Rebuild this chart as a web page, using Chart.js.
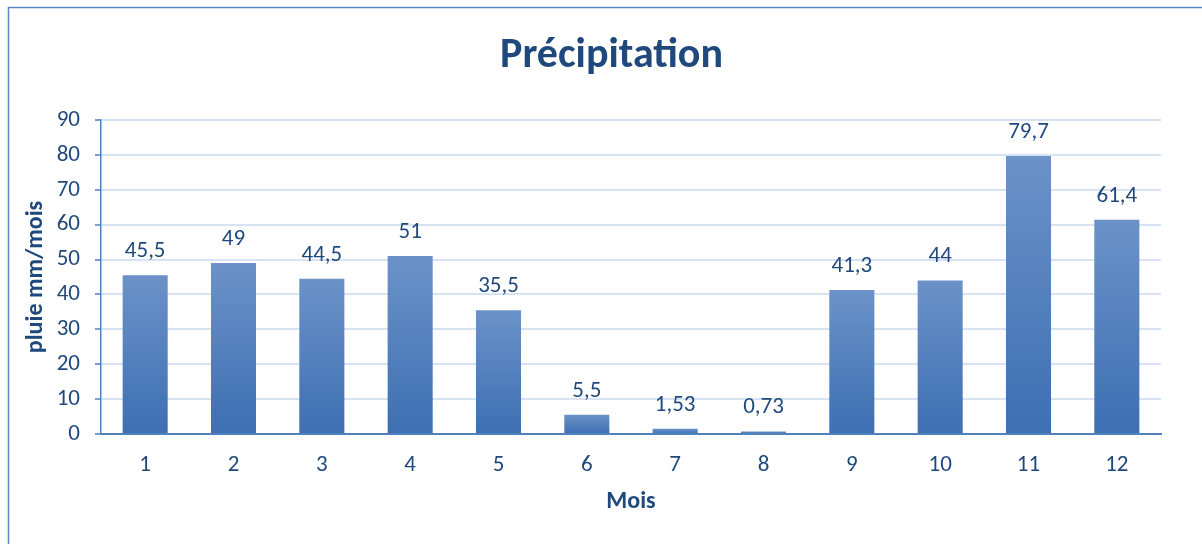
<!DOCTYPE html>
<html>
<head>
<meta charset="utf-8">
<script src="https://cdn.jsdelivr.net/npm/chart.js@4/dist/chart.umd.min.js"></script>
<style>
  html, body { margin: 0; padding: 0; background: #ffffff; }
  #wrap { width: 1202px; height: 544px; position: relative; }
</style>
</head>
<body>
<div id="wrap"><canvas id="c" width="1202" height="544"></canvas></div>
<script>
// Monthly rainfall (mm)
const months = ['1', '2', '3', '4', '5', '6', '7', '8', '9', '10', '11', '12'];
const rainfall = [45.5, 49, 44.5, 51, 35.5, 5.5, 1.53, 0.73, 41.3, 44, 79.7, 61.4];
const yTicks = [0, 10, 20, 30, 40, 50, 60, 70, 80, 90];
const chartTitle = 'Précipitation';

const FONT = 'Carlito, Lato, "Open Sans", sans-serif';
const TEXT = '#1F497D';
const AXIS = '#4F81BD';

// Vertical gradient per bar: lighter at the top, deeper at the base
function barFill(ctx) {
  const chart = ctx.chart;
  const area = chart.chartArea;
  if (!area || ctx.dataIndex === undefined) return '#4F81BD';
  const y = chart.scales.y;
  const top = y.getPixelForValue(ctx.raw);
  const base = y.getPixelForValue(0);
  if (!(base - top > 0.5)) return '#5A86C2';
  const g = chart.ctx.createLinearGradient(0, top, 0, base);
  g.addColorStop(0, '#6C92C8');
  g.addColorStop(1, '#3D6FB2');
  return g;
}

// Value labels above every bar, written with a decimal comma
const valueLabels = {
  id: 'valueLabels',
  afterDatasetsDraw(chart) {
    const ctx = chart.ctx;
    const meta = chart.getDatasetMeta(0);
    ctx.save();
    ctx.font = '23px ' + FONT;
    ctx.fillStyle = TEXT;
    ctx.textAlign = 'center';
    ctx.textBaseline = 'alphabetic';
    meta.data.forEach((bar, i) => {
      const txt = String(rainfall[i]).replace('.', ',');
      ctx.fillText(txt, bar.x, bar.y - 18);
    });
    ctx.restore();
  }
};

// Outer frame of the chart box and the centred heading
const frame = {
  id: 'frame',
  beforeDraw(chart) {
    const ctx = chart.ctx;
    ctx.save();
    ctx.fillStyle = '#ffffff';
    ctx.fillRect(0, 0, chart.width, chart.height);
    ctx.strokeStyle = '#5B87C4';
    ctx.lineWidth = 1.5;
    ctx.beginPath();
    ctx.moveTo(8.5, chart.height + 2);
    ctx.lineTo(8.5, 7.5);
    ctx.lineTo(chart.width + 2, 7.5);
    ctx.stroke();

    ctx.fillStyle = TEXT;
    ctx.font = 'bold 42px ' + FONT;
    ctx.textAlign = 'center';
    ctx.textBaseline = 'alphabetic';
    ctx.fillText(chartTitle, (8 + chart.width + 13) / 2, 66.5);
    ctx.restore();
  }
};

new Chart(document.getElementById('c'), {
  type: 'bar',
  data: {
    labels: months,
    datasets: [{
      data: rainfall,
      backgroundColor: barFill,
      borderWidth: 0,
      barPercentage: 0.51,
      categoryPercentage: 1.0
    }]
  },
  plugins: [frame, valueLabels],
  options: {
    responsive: false,
    animation: false,
    devicePixelRatio: 1,
    layout: { padding: { left: 0, right: 41, top: 120, bottom: 0 } },
    plugins: {
      legend: { display: false },
      tooltip: { enabled: false },
      title: { display: false }
    },
    scales: {
      x: {
        grid: { display: false, drawTicks: false },
        border: { display: true, color: AXIS, width: 2 },
        ticks: { color: TEXT, font: { family: FONT, size: 23 }, padding: 17, maxRotation: 0 },
        title: {
          display: true,
          text: 'Mois',
          color: TEXT,
          font: { family: FONT, size: 24, weight: 'bold', lineHeight: 1.2 },
          padding: { top: 0, bottom: 28 }
        },
        afterFit(s) { s.height = 110; }
      },
      y: {
        min: 0,
        max: 90,
        afterBuildTicks(s) { s.ticks = yTicks.map(v => ({ value: v })); },
        grid: { color: '#D7E3F3', lineWidth: 2, tickLength: 6, tickColor: AXIS, tickWidth: 1.5 },
        border: { display: true, color: AXIS, width: 1.5 },
        ticks: { color: TEXT, font: { family: FONT, size: 23 }, padding: 15 },
        title: {
          display: true,
          text: 'pluie mm/mois',
          color: TEXT,
          font: { family: FONT, size: 24, weight: 'bold', lineHeight: 1.2 },
          padding: { top: 22, bottom: 0 }
        },
        afterFit(s) { s.width = 101; }
      }
    }
  }
});
</script>
</body>
</html>
